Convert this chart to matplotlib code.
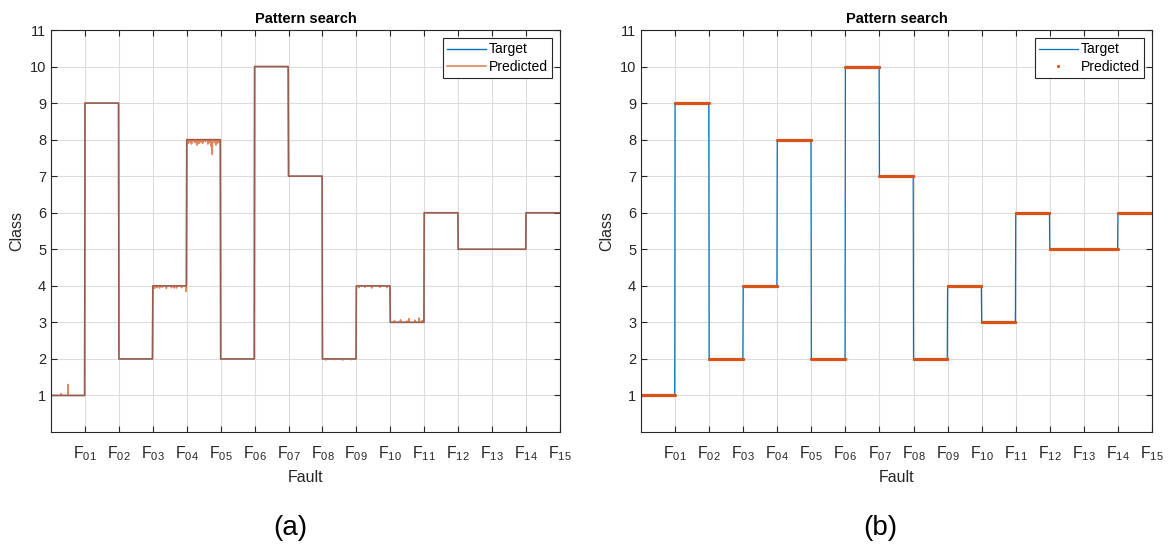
import numpy as np
import matplotlib
matplotlib.use("Agg")
import matplotlib.pyplot as plt

plt.rcParams['font.family'] = ['Liberation Sans', 'DejaVu Sans']
plt.rcParams['mathtext.fontset'] = 'custom'
plt.rcParams['mathtext.rm'] = 'Liberation Sans'
plt.rcParams['mathtext.it'] = 'Liberation Sans'

# Class of each fault segment, in order F01..F15
fault_class = [1, 9, 2, 4, 8, 2, 10, 7, 2, 4, 3, 6, 5, 5, 6]
fault_labels = ["01", "02", "03", "04", "05", "06", "07", "08",
                "09", "10", "11", "12", "13", "14", "15"]
samples_per_fault = 100

# Misclassified samples of the pattern-search output in panel (a):
# (fault index, sample index within fault, predicted value)
pred_a_dev_fault = [0, 0,
                    3, 3, 3, 3, 3, 3, 3, 3, 3, 3,
                    4, 4, 4, 4, 4, 4, 4, 4, 4, 4, 4, 4, 4, 4, 4, 4, 4, 4,
                    8, 8, 8, 8,
                    9, 9, 9, 9, 9,
                    10, 10, 10, 10, 10, 10, 10]
pred_a_dev_sample = [30, 50,
                     5, 12, 20, 28, 40, 55, 63, 70, 85, 98,
                     4, 9, 14, 18, 25, 30, 36, 42, 47, 55, 62, 68, 72, 75, 82, 86, 90, 95,
                     10, 35, 60, 85,
                     8, 25, 45, 70, 90,
                     12, 30, 48, 55, 72, 85, 94]
pred_a_dev_value = [1.05, 1.3,
                    3.93, 3.95, 3.94, 3.96, 3.93, 3.95, 3.94, 3.94, 3.95, 3.85,
                    7.9, 7.93, 7.88, 7.95, 7.92, 7.85, 7.9, 7.93, 7.9, 7.95, 7.88, 7.92,
                    7.82, 7.6, 7.92, 7.85, 7.9, 7.93,
                    1.97, 1.98, 1.97, 1.98,
                    3.95, 3.96, 3.94, 3.96, 3.95,
                    3.05, 3.07, 3.04, 3.1, 3.06, 3.12, 3.05]

n = len(fault_class) * samples_per_fault
x = np.arange(n) / samples_per_fault
target = np.repeat(fault_class, samples_per_fault).astype(float)
pred_a = target.copy()
for f, s, v in zip(pred_a_dev_fault, pred_a_dev_sample, pred_a_dev_value):
    pred_a[f * samples_per_fault + s] = v
pred_b = target.copy()

blue = '#0072BD'
orange = '#D95319'

fig = plt.figure(figsize=(11.7, 5.51), dpi=100)
ax_a = fig.add_axes([51 / 1170, 119 / 551, 509 / 1170, 402 / 551])
ax_b = fig.add_axes([641 / 1170, 119 / 551, 511 / 1170, 402 / 551])


def style(ax):
    ax.set_xlim(0, 15)
    ax.set_ylim(0, 11)
    ax.set_xticks(np.arange(1, 16))
    ax.set_xticklabels([r"F$_{%s}$" % s for s in fault_labels], fontsize=11.5)
    ax.set_yticks(np.arange(1, 12))
    ax.tick_params(axis='y', labelsize=10.5)
    ax.tick_params(direction='in', top=True, right=True, length=4, width=0.8,
                   colors='#262626', labelcolor='#262626')
    ax.tick_params(axis='x', pad=9)
    ax.grid(True, color='#dcdcdc', linewidth=0.8)
    ax.set_axisbelow(True)
    for sp in ax.spines.values():
        sp.set_color('#262626')
        sp.set_linewidth(0.8)
    ax.set_xlabel("Fault", fontsize=11.5, color='#262626', labelpad=5)
    ax.set_ylabel("Class", fontsize=11.5, color='#262626', labelpad=4)
    ax.set_title("Pattern search", fontsize=10.5, fontweight='bold', pad=5)


def add_legend(ax):
    leg = ax.legend(loc='upper right', fontsize=10, fancybox=False, framealpha=1,
                    edgecolor='#262626', handlelength=2.8, borderpad=0.3,
                    labelspacing=0.25, handletextpad=0.2, borderaxespad=0.6)
    leg.get_frame().set_linewidth(0.8)


# Panel (a): prediction as a translucent line over the target
ax_a.plot(x, target, color=blue, linewidth=1.0, label="Target")
ax_a.plot(x, pred_a, color=orange, linewidth=1.2, alpha=0.7, label="Predicted")
style(ax_a)
add_legend(ax_a)

# Panel (b): prediction as dots over the target
ax_b.plot(x, target, color=blue, linewidth=0.9, label="Target")
ax_b.plot(x, pred_b, linestyle='none', marker='.', markersize=2.5,
          color=orange, label="Predicted")
style(ax_b)
add_legend(ax_b)

fig.text(290 / 1170, 1 - 528 / 551, "(a)", fontsize=20, ha='center', va='center')
fig.text(880 / 1170, 1 - 528 / 551, "(b)", fontsize=20, ha='center', va='center')

fig.savefig("out.png", dpi=100)
